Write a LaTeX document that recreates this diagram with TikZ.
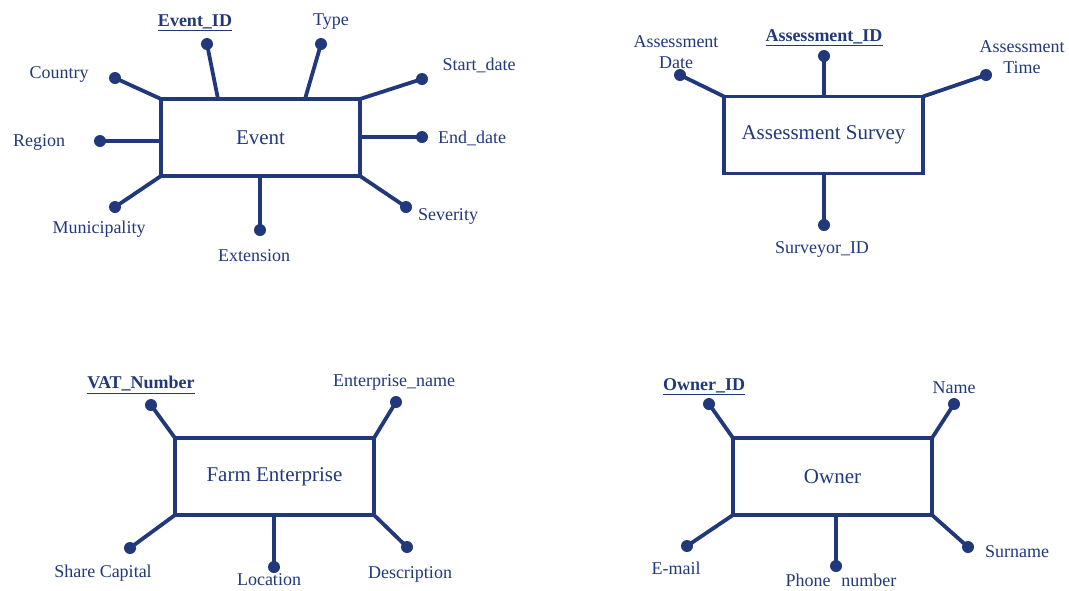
\documentclass[tikz,border=0pt]{standalone}
\usepackage{fontspec}
\setmainfont{Liberation Serif}
\definecolor{navy}{RGB}{33,56,122}
\begin{document}
\begin{tikzpicture}[x=1pt,y=-1pt,
  entity/.style={draw=navy,line width=3.8pt,minimum width=199pt,minimum height=77pt,inner sep=0pt,outer sep=0pt,text=navy,font=\fontsize{21}{24}\selectfont},
  dot/.style={circle,fill=navy,minimum size=12pt,inner sep=0pt},
  lbl/.style={text=navy,font=\fontsize{18}{20}\selectfont,inner sep=0pt,align=center},
  con/.style={draw=navy,line width=3.8pt}]
\useasboundingbox (0,0) rectangle (1069,590);

% ---------- Event ----------
\node[entity] (ev) at (260.5,137.5) {Event};
\node[dot] (evid) at (207,44) {};
\node[dot] (evty) at (321,44) {};
\node[dot] (evsd) at (422,79) {};
\node[dot] (eved) at (422,137) {};
\node[dot] (evse) at (406,207) {};
\node[dot] (evex) at (260,230) {};
\node[dot] (evmu) at (115,207) {};
\node[dot] (evre) at (100,141) {};
\node[dot] (evco) at (115,78) {};
\coordinate (evidE) at (218,99);
\coordinate (evtyE) at (305,99);
\draw[con] (evid.center) -- (evidE);
\draw[con] (evty.center) -- (evtyE);
\draw[con] (evsd.center) -- (ev.north east);
\draw[con] (eved.center) -- (eved -| ev.east);
\draw[con] (evse.center) -- (ev.south east);
\draw[con] (evex.center) -- (evex |- ev.south);
\draw[con] (evmu.center) -- (ev.south west);
\draw[con] (evre.center) -- (evre -| ev.west);
\draw[con] (evco.center) -- (ev.north west);
\node[lbl] (tevid) at (195,23) {\underline{\textbf{Event\_ID}}};
\node[lbl] (tevty) at (331,22) {Type};
\node[lbl] (tevsd) at (479,65) {Start\_date};
\node[lbl] (teved) at (472,138) {End\_date};
\node[lbl] (tevse) at (448,216) {Severity};
\node[lbl] (tevex) at (254,256) {Extension};
\node[lbl] (tevmu) at (99,229) {Municipality};
\node[lbl] (tevre) at (39,142) {Region};
\node[lbl] (tevco) at (59,74) {Country};

% ---------- Assessment Survey ----------
\node[entity] (as) at (823.5,135) {Assessment Survey};
\node[dot] (asid) at (824,56) {};
\node[dot] (asda) at (680,75) {};
\node[dot] (asti) at (986,75) {};
\node[dot] (assu) at (824,225) {};
\draw[con] (asid.center) -- (asid |- as.north);
\draw[con] (asda.center) -- (as.north west);
\draw[con] (asti.center) -- (as.north east);
\draw[con] (assu.center) -- (assu |- as.south);
\node[lbl] (tasid) at (824,38) {\underline{\textbf{Assessment\_ID}}};
\node[lbl] (tasda) at (676,52) {Assessment\\[1pt]Date};
\node[lbl] (tasti) at (1022,57) {Assessment\\[1pt]Time};
\node[lbl] (tassu) at (822,249) {Surveyor\_ID};

% ---------- Farm Enterprise ----------
\node[entity] (fe) at (274.5,476.5) {Farm Enterprise};
\node[dot] (fevat) at (151,405) {};
\node[dot] (fenam) at (396,402) {};
\node[dot] (fesha) at (130,548) {};
\node[dot] (feloc) at (274,567) {};
\node[dot] (fedes) at (407,547) {};
\draw[con] (fevat.center) -- (fe.north west);
\draw[con] (fenam.center) -- (fe.north east);
\draw[con] (fesha.center) -- (fe.south west);
\draw[con] (feloc.center) -- (feloc |- fe.south);
\draw[con] (fedes.center) -- (fe.south east);
\node[lbl] (tfevat) at (141,385) {\underline{\textbf{VAT\_Number}}};
\node[lbl] (tfenam) at (394,382) {Enterprise\_name};
\node[lbl] (tfesha) at (103,573) {Share Capital};
\node[lbl] (tfeloc) at (269,580) {Location};
\node[lbl] (tfedes) at (410,574) {Description};

% ---------- Owner ----------
\node[entity] (ow) at (832.5,476.5) {Owner};
\node[dot] (owid) at (709,404) {};
\node[dot] (owna) at (954,404) {};
\node[dot] (owem) at (687,546) {};
\node[dot] (owph) at (836,566) {};
\node[dot] (owsu) at (968,547) {};
\draw[con] (owid.center) -- (ow.north west);
\draw[con] (owna.center) -- (ow.north east);
\draw[con] (owem.center) -- (ow.south west);
\draw[con] (owph.center) -- (owph |- ow.south);
\draw[con] (owsu.center) -- (ow.south east);
\node[lbl] (towid) at (704,387) {\underline{\textbf{Owner\_ID}}};
\node[lbl] (towna) at (954,388) {Name};
\node[lbl] (towem) at (676,568) {E-mail};
\node[lbl] (towph) at (841,580) {Phone\hspace{0.6em}number};
\node[lbl] (towsu) at (1017,552) {Surname};
\end{tikzpicture}
\end{document}
